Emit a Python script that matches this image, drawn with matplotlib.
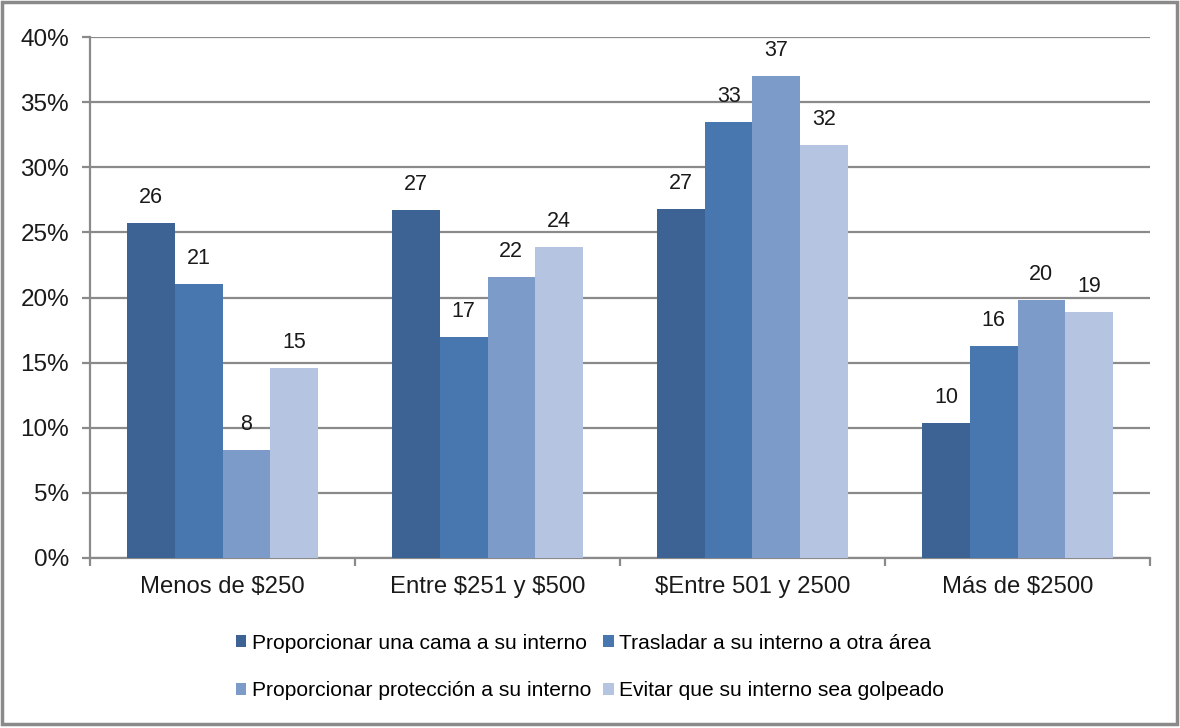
import matplotlib
matplotlib.use("Agg")
import matplotlib.pyplot as plt
import numpy as np
from matplotlib.ticker import FuncFormatter, FixedLocator
from matplotlib.patches import Rectangle

plt.rcParams['font.family'] = ['Liberation Sans', 'DejaVu Sans']
plt.rcParams['text.parse_math'] = False

categories = ["Menos de $250", "Entre $251 y $500", "$Entre 501 y 2500", "Más de $2500"]
series_names = [
    "Proporcionar una cama a su interno",
    "Trasladar a su interno a otra área",
    "Proporcionar protección a su interno",
    "Evitar que su interno sea golpeado",
]
cama = [25.7, 26.7, 26.8, 10.4]
trasladar = [21.0, 17.0, 33.5, 16.3]
proteccion = [8.3, 21.6, 37.0, 19.8]
evitar = [14.6, 23.9, 31.7, 18.9]
labels_cama = ["26", "27", "27", "10"]
labels_trasladar = ["21", "17", "33", "16"]
labels_proteccion = ["8", "22", "37", "20"]
labels_evitar = ["15", "24", "32", "19"]
colors = ["#3c6394", "#4877b0", "#7d9bc8", "#b5c4e0"]

series = [cama, trasladar, proteccion, evitar]
series_labels = [labels_cama, labels_trasladar, labels_proteccion, labels_evitar]

fig = plt.figure(figsize=(11.8, 7.28), dpi=100)
ax = fig.add_axes([90/1180, 1-558/728, (1150-90)/1180, (558-37)/728])

x = np.arange(len(categories))
w = 0.18
handles = []
for i, (vals, labs) in enumerate(zip(series, series_labels)):
    pos = x + (i - 1.5) * w
    b = ax.bar(pos, vals, width=w, color=colors[i], label=series_names[i], zorder=3, linewidth=0)
    handles.append(b)
    for p, v, l in zip(pos, vals, labs):
        ax.text(p, v + 1.15, l, ha='center', va='bottom', fontsize=15.5, color='#1a1a1a', zorder=4)

ax.set_xlim(-0.5, 3.5)
ax.set_ylim(0, 40)
ax.yaxis.set_major_locator(FixedLocator(np.arange(0, 41, 5)))
ax.yaxis.set_major_formatter(FuncFormatter(lambda v, p: f"{v:.0f}%"))
ax.grid(axis='y', color='#8a8a8a', linewidth=1.6, zorder=0)
ax.set_axisbelow(True)

ax.set_xticks(x)
ax.set_xticklabels(categories)
ax.set_xticks([-0.5, 0.5, 1.5, 2.5, 3.5], minor=True)
ax.tick_params(axis='x', which='major', length=0, labelsize=17.2, pad=13, colors='#1a1a1a')
ax.tick_params(axis='x', which='minor', length=6, width=1.6, color='#8a8a8a', direction='out')
ax.tick_params(axis='y', length=6, width=1.6, color='#8a8a8a', labelsize=17.5, pad=9, labelcolor='#1a1a1a')

for s in ['top', 'right']:
    ax.spines[s].set_visible(False)
for s in ['left', 'bottom']:
    ax.spines[s].set_color('#8a8a8a')
    ax.spines[s].set_linewidth(1.6)

order = [0, 2, 1, 3]
leg = fig.legend([handles[k] for k in order], [series_names[k] for k in order],
                 loc='center', bbox_to_anchor=(0.5, 1-667/728), ncol=2, frameon=False,
                 fontsize=15.1, handlelength=0.5, handleheight=0.5, handletextpad=0.25,
                 columnspacing=0.6, labelspacing=1.35, borderpad=0)

fig.patches.append(Rectangle((2/1180, 4/728), 1175/1180, 722/728, transform=fig.transFigure,
                             fill=False, edgecolor='#8a8a8a', linewidth=2.5))

fig.savefig("out.png", dpi=100)
